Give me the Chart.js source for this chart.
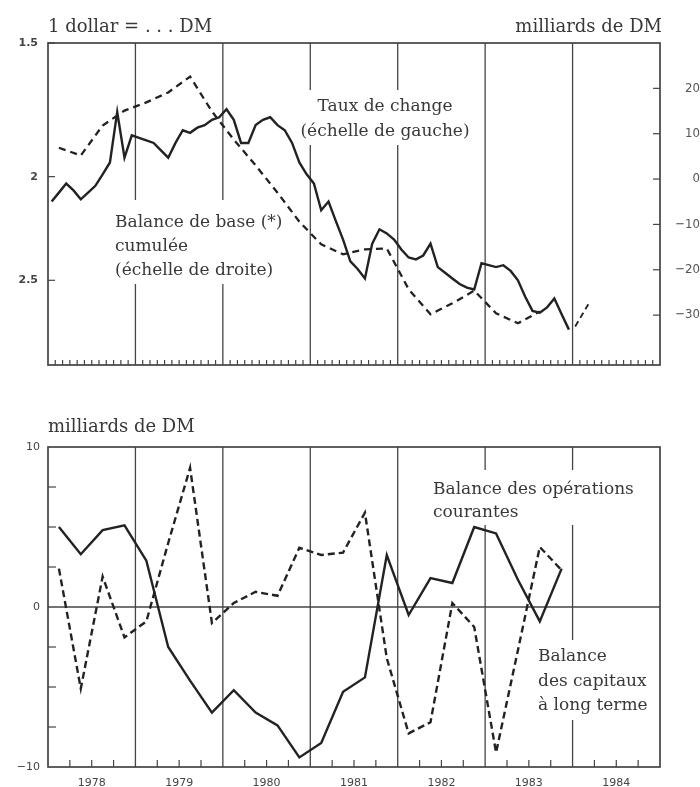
<!DOCTYPE html>
<html><head><meta charset="utf-8">
<script src="https://cdn.jsdelivr.net/npm/chart.js@4/dist/chart.umd.min.js"></script>
<style>
html,body{margin:0;padding:0;background:#fff;}
#wrap{position:relative;width:700px;height:787px;background:#fff;overflow:hidden;}
canvas{position:absolute;left:0;}
#c1{top:0;} #c2{top:390px;}
</style></head><body>
<div id="wrap">
<canvas id="c1" width="700" height="390"></canvas>
<canvas id="c2" width="700" height="397"></canvas>
</div>
<script>
// ---------- DATA ----------
const years = [1978, 1979, 1980, 1981, 1982, 1983, 1984];
// DM per dollar, monthly Jan 1978 .. Dec 1983 (left scale, log, inverted)
const rateMonthly = [
  2.11, 2.07, 2.03, 2.06, 2.10, 2.07, 2.04, 1.99, 1.94, 1.74, 1.92, 1.83,
  1.84, 1.85, 1.86, 1.89, 1.92, 1.86, 1.81, 1.82, 1.80, 1.79, 1.77, 1.76,
  1.73, 1.77, 1.86, 1.86, 1.79, 1.77, 1.76, 1.79, 1.81, 1.86, 1.94, 1.99,
  2.03, 2.15, 2.11, 2.20, 2.29, 2.40, 2.44, 2.49, 2.31, 2.24, 2.26, 2.29,
  2.34, 2.38, 2.39, 2.37, 2.31, 2.43, 2.46, 2.49, 2.52, 2.54, 2.55, 2.41,
  2.42, 2.43, 2.42, 2.45, 2.50, 2.59, 2.67, 2.68, 2.65, 2.60, 2.69, 2.78
];
// Cumulated basic balance, quarterly Q1 1978 .. Q3 1983 (right scale, bn DM)
const baseQuarterly = [
  6.9, 5.2, 11.8, 15.1,
  16.9, 19.1, 22.6, 14.9,
  8.7, 3.0, -3.0, -9.4,
  -14.4, -16.6, -15.5, -15.3,
  -24.3, -29.8, -27.4, -24.6,
  -29.6, -31.8, -29.2
];
// short dashed piece drawn after the start of 1984
const baseTailDates = [1984.03, 1984.18];
const baseTailValues = [-32.5, -27.6];
// Quarterly Q1 1978 .. Q4 1983, bn DM
const currentAccount = [
  5.0, 3.3, 4.8, 5.1,
  2.9, -2.5, -4.6, -6.6,
  -5.2, -6.6, -7.4, -9.4,
  -8.5, -5.3, -4.4, 3.25,
  -0.5, 1.8, 1.5, 5.0,
  4.6, 1.7, -0.9, 2.4
];
const longTermCapital = [
  2.4, -5.1, 1.9, -1.9,
  -0.9, 4.0, 8.7, -1.0,
  0.25, 0.95, 0.7, 3.7,
  3.25, 3.4, 5.9, -3.2,
  -7.9, -7.2, 0.25, -1.25,
  -9.1, -2.7, 3.75, 2.3
];
const leftTicksTop = [1.5, 2, 2.5];
const rightTicksTop = [20, 10, 0, -10, -20, -30];
const leftTicksBottom = [10, 0, -10];
const minorTicksBottom = [7.5, 5, 2.5, -2.5, -5, -7.5];

// ---------- STYLE ----------
const INK = '#222';
const GRID = '#444';
const TEXT = '#383838';
const SERIF = "'DejaVu Serif', serif";
const minus = v => (v < 0 ? '\u2212' + Math.abs(v) : String(v));

const monthDate = i => years[0] + (i + 0.5) / 12;
const quarterDate = q => years[0] + (q + 0.5) / 4;
const xMin = years[0], xMax = years[years.length - 1] + 1;

const yearBounds = years.slice(1);
const monthBounds = [];
for (let k = 1; k < (xMax - xMin) * 12; k++) if (k % 12) monthBounds.push(xMin + k / 12);
const quarterBounds = [];
for (let k = 1; k < (xMax - xMin) * 4; k++) if (k % 4) quarterBounds.push(xMin + k / 4);

const deco = {
  id: 'deco',
  beforeDatasetsDraw(chart, args, o) {
    const ctx = chart.ctx, a = chart.chartArea, xs = chart.scales.x;
    ctx.save();
    ctx.strokeStyle = GRID;
    ctx.lineWidth = 1.3;
    yearBounds.forEach(v => {
      const px = xs.getPixelForValue(v);
      ctx.beginPath(); ctx.moveTo(px, a.top); ctx.lineTo(px, a.bottom); ctx.stroke();
    });
    (o.hLines || []).forEach(h => {
      const py = chart.scales[h.scale].getPixelForValue(h.value);
      ctx.beginPath(); ctx.moveTo(a.left, py); ctx.lineTo(a.right, py); ctx.stroke();
    });
    ctx.lineWidth = 1.7;
    ctx.strokeRect(a.left, a.top, a.width, a.height);
    ctx.lineWidth = 1.2;
    (o.yTicks || []).forEach(t => {
      const s = chart.scales[t.scale];
      t.values.forEach(v => {
        const py = s.getPixelForValue(v);
        ctx.beginPath();
        if (t.side === 'left') { ctx.moveTo(a.left, py); ctx.lineTo(a.left + t.len, py); }
        else { ctx.moveTo(a.right - t.len, py); ctx.lineTo(a.right, py); }
        ctx.stroke();
      });
    });
    (o.xTicks || []).forEach(t => {
      t.values.forEach(v => {
        const px = xs.getPixelForValue(v);
        ctx.beginPath(); ctx.moveTo(px, a.bottom); ctx.lineTo(px, a.bottom - t.len); ctx.stroke();
      });
    });
    (o.notes || []).forEach(n => {
      ctx.fillStyle = '#fff';
      ctx.fillRect(n.box[0], n.box[1], n.box[2], n.box[3]);
      ctx.fillStyle = TEXT;
      ctx.font = "17px " + SERIF;
      ctx.textAlign = n.align;
      ctx.textBaseline = 'alphabetic';
      n.lines.forEach((t, i) => ctx.fillText(t, n.x, n.y + i * n.lh));
    });
    (o.titles || []).forEach(t => {
      ctx.fillStyle = TEXT;
      ctx.font = "18px " + SERIF;
      ctx.textAlign = t.align;
      ctx.textBaseline = 'alphabetic';
      ctx.fillText(t.text, t.x, t.y);
    });
    ctx.restore();
  }
};

// ---------- TOP CHART ----------
new Chart(document.getElementById('c1'), {
  type: 'line',
  data: {
    datasets: [
      {
        label: 'Taux de change',
        data: rateMonthly.map((v, i) => ({ x: monthDate(i), y: v })),
        yAxisID: 'yL', borderColor: INK, borderWidth: 2.4, pointRadius: 0, tension: 0
      },
      {
        label: 'Balance de base cumulée',
        data: baseQuarterly.map((v, q) => ({ x: quarterDate(q), y: v })),
        yAxisID: 'yR', borderColor: INK, borderWidth: 2.3, borderDash: [7, 5], pointRadius: 0, tension: 0
      },
      {
        label: 'Balance de base cumulée (suite)',
        data: baseTailDates.map((d, i) => ({ x: d, y: baseTailValues[i] })),
        yAxisID: 'yR', borderColor: INK, borderWidth: 1.8, borderDash: [6, 4], pointRadius: 0
      }
    ]
  },
  options: {
    responsive: false, animation: false, devicePixelRatio: 1,
    layout: { padding: { top: 43, bottom: 25, left: 0, right: 0 } },
    plugins: {
      legend: { display: false }, tooltip: { enabled: false },
      deco: {
        yTicks: [
          { scale: 'yL', values: leftTicksTop, side: 'left', len: 7 },
          { scale: 'yR', values: rightTicksTop, side: 'right', len: 7 }
        ],
        xTicks: [{ values: monthBounds, len: 5 }],
        notes: [
          { lines: ['Taux de change', '(échelle de gauche)'], x: 385, y: 111, lh: 25, align: 'center', box: [298, 90, 174, 55] },
          { lines: ['Balance de base (*)', 'cumulée', '(échelle de droite)'], x: 115, y: 227, lh: 24, align: 'left', box: [110, 200, 182, 84] }
        ],
        titles: [
          { text: '1 dollar = . . . DM', x: 48, y: 32, align: 'left' },
          { text: 'milliards de DM', x: 662, y: 32, align: 'right' }
        ]
      }
    },
    scales: {
      x: {
        type: 'linear', min: xMin, max: xMax,
        ticks: { display: false }, grid: { display: false, drawTicks: false }, border: { display: false },
        afterFit: s => { s.height = 0; }
      },
      yL: {
        type: 'logarithmic', position: 'left', reverse: true, min: 1.5, max: 3,
        afterBuildTicks: s => { s.ticks = leftTicksTop.map(v => ({ value: v })); },
        ticks: { callback: v => String(v), color: '#444', padding: 10,
                 font: { family: "'DejaVu Sans', sans-serif", size: 11, weight: 'bold' } },
        grid: { display: false, drawTicks: false }, border: { display: false },
        afterFit: s => { s.width = 48; }
      },
      yR: {
        type: 'linear', position: 'right', min: -41, max: 30,
        afterBuildTicks: s => { s.ticks = rightTicksTop.map(v => ({ value: v })); },
        ticks: { callback: v => minus(v), color: '#555', padding: 10, crossAlign: 'far',
                 font: { family: "'DejaVu Sans Condensed', 'DejaVu Sans', sans-serif", size: 13 } },
        grid: { display: false, drawTicks: false }, border: { display: false },
        afterFit: s => { s.width = 40; }
      }
    }
  },
  plugins: [deco]
});

// ---------- BOTTOM CHART ----------
new Chart(document.getElementById('c2'), {
  type: 'line',
  data: {
    datasets: [
      {
        label: 'Balance des opérations courantes',
        data: currentAccount.map((v, q) => ({ x: quarterDate(q), y: v })),
        yAxisID: 'y', borderColor: INK, borderWidth: 2.4, pointRadius: 0, tension: 0
      },
      {
        label: 'Balance des capitaux à long terme',
        data: longTermCapital.map((v, q) => ({ x: quarterDate(q), y: v })),
        yAxisID: 'y', borderColor: INK, borderWidth: 2.4, borderDash: [7, 4], pointRadius: 0, tension: 0
      }
    ]
  },
  options: {
    responsive: false, animation: false, devicePixelRatio: 1,
    layout: { padding: { top: 57, bottom: 0, left: 0, right: 40 } },
    plugins: {
      legend: { display: false }, tooltip: { enabled: false },
      deco: {
        hLines: [{ scale: 'y', value: 0 }],
        yTicks: [{ scale: 'y', values: minorTicksBottom, side: 'left', len: 8 }],
        xTicks: [{ values: quarterBounds, len: 7 }],
        notes: [
          { lines: ['Balance des opérations', 'courantes'], x: 433, y: 104, lh: 23, align: 'left', box: [428, 80, 214, 55] },
          { lines: ['Balance', 'des capitaux', 'à long terme'], x: 538, y: 271, lh: 24.5, align: 'left', box: [532, 250, 122, 80] }
        ],
        titles: [
          { text: 'milliards de DM', x: 48, y: 42, align: 'left' }
        ]
      }
    },
    scales: {
      x: {
        type: 'linear', min: xMin, max: xMax,
        afterBuildTicks: s => { s.ticks = years.map(y => ({ value: y + 0.5 })); },
        ticks: { callback: v => String(Math.floor(v)), color: '#444', padding: 10, maxRotation: 0, autoSkip: false,
                 font: { family: "'DejaVu Sans', sans-serif", size: 11 } },
        grid: { display: false, drawTicks: false }, border: { display: false },
        afterFit: s => { s.height = 20; }
      },
      y: {
        type: 'linear', position: 'left', min: -10, max: 10,
        afterBuildTicks: s => { s.ticks = leftTicksBottom.map(v => ({ value: v })); },
        ticks: { callback: v => minus(v), color: '#444', padding: 8,
                 font: { family: "'DejaVu Sans', sans-serif", size: 11 } },
        grid: { display: false, drawTicks: false }, border: { display: false },
        afterFit: s => { s.width = 48; }
      }
    }
  },
  plugins: [deco]
});
</script>
</body></html>
